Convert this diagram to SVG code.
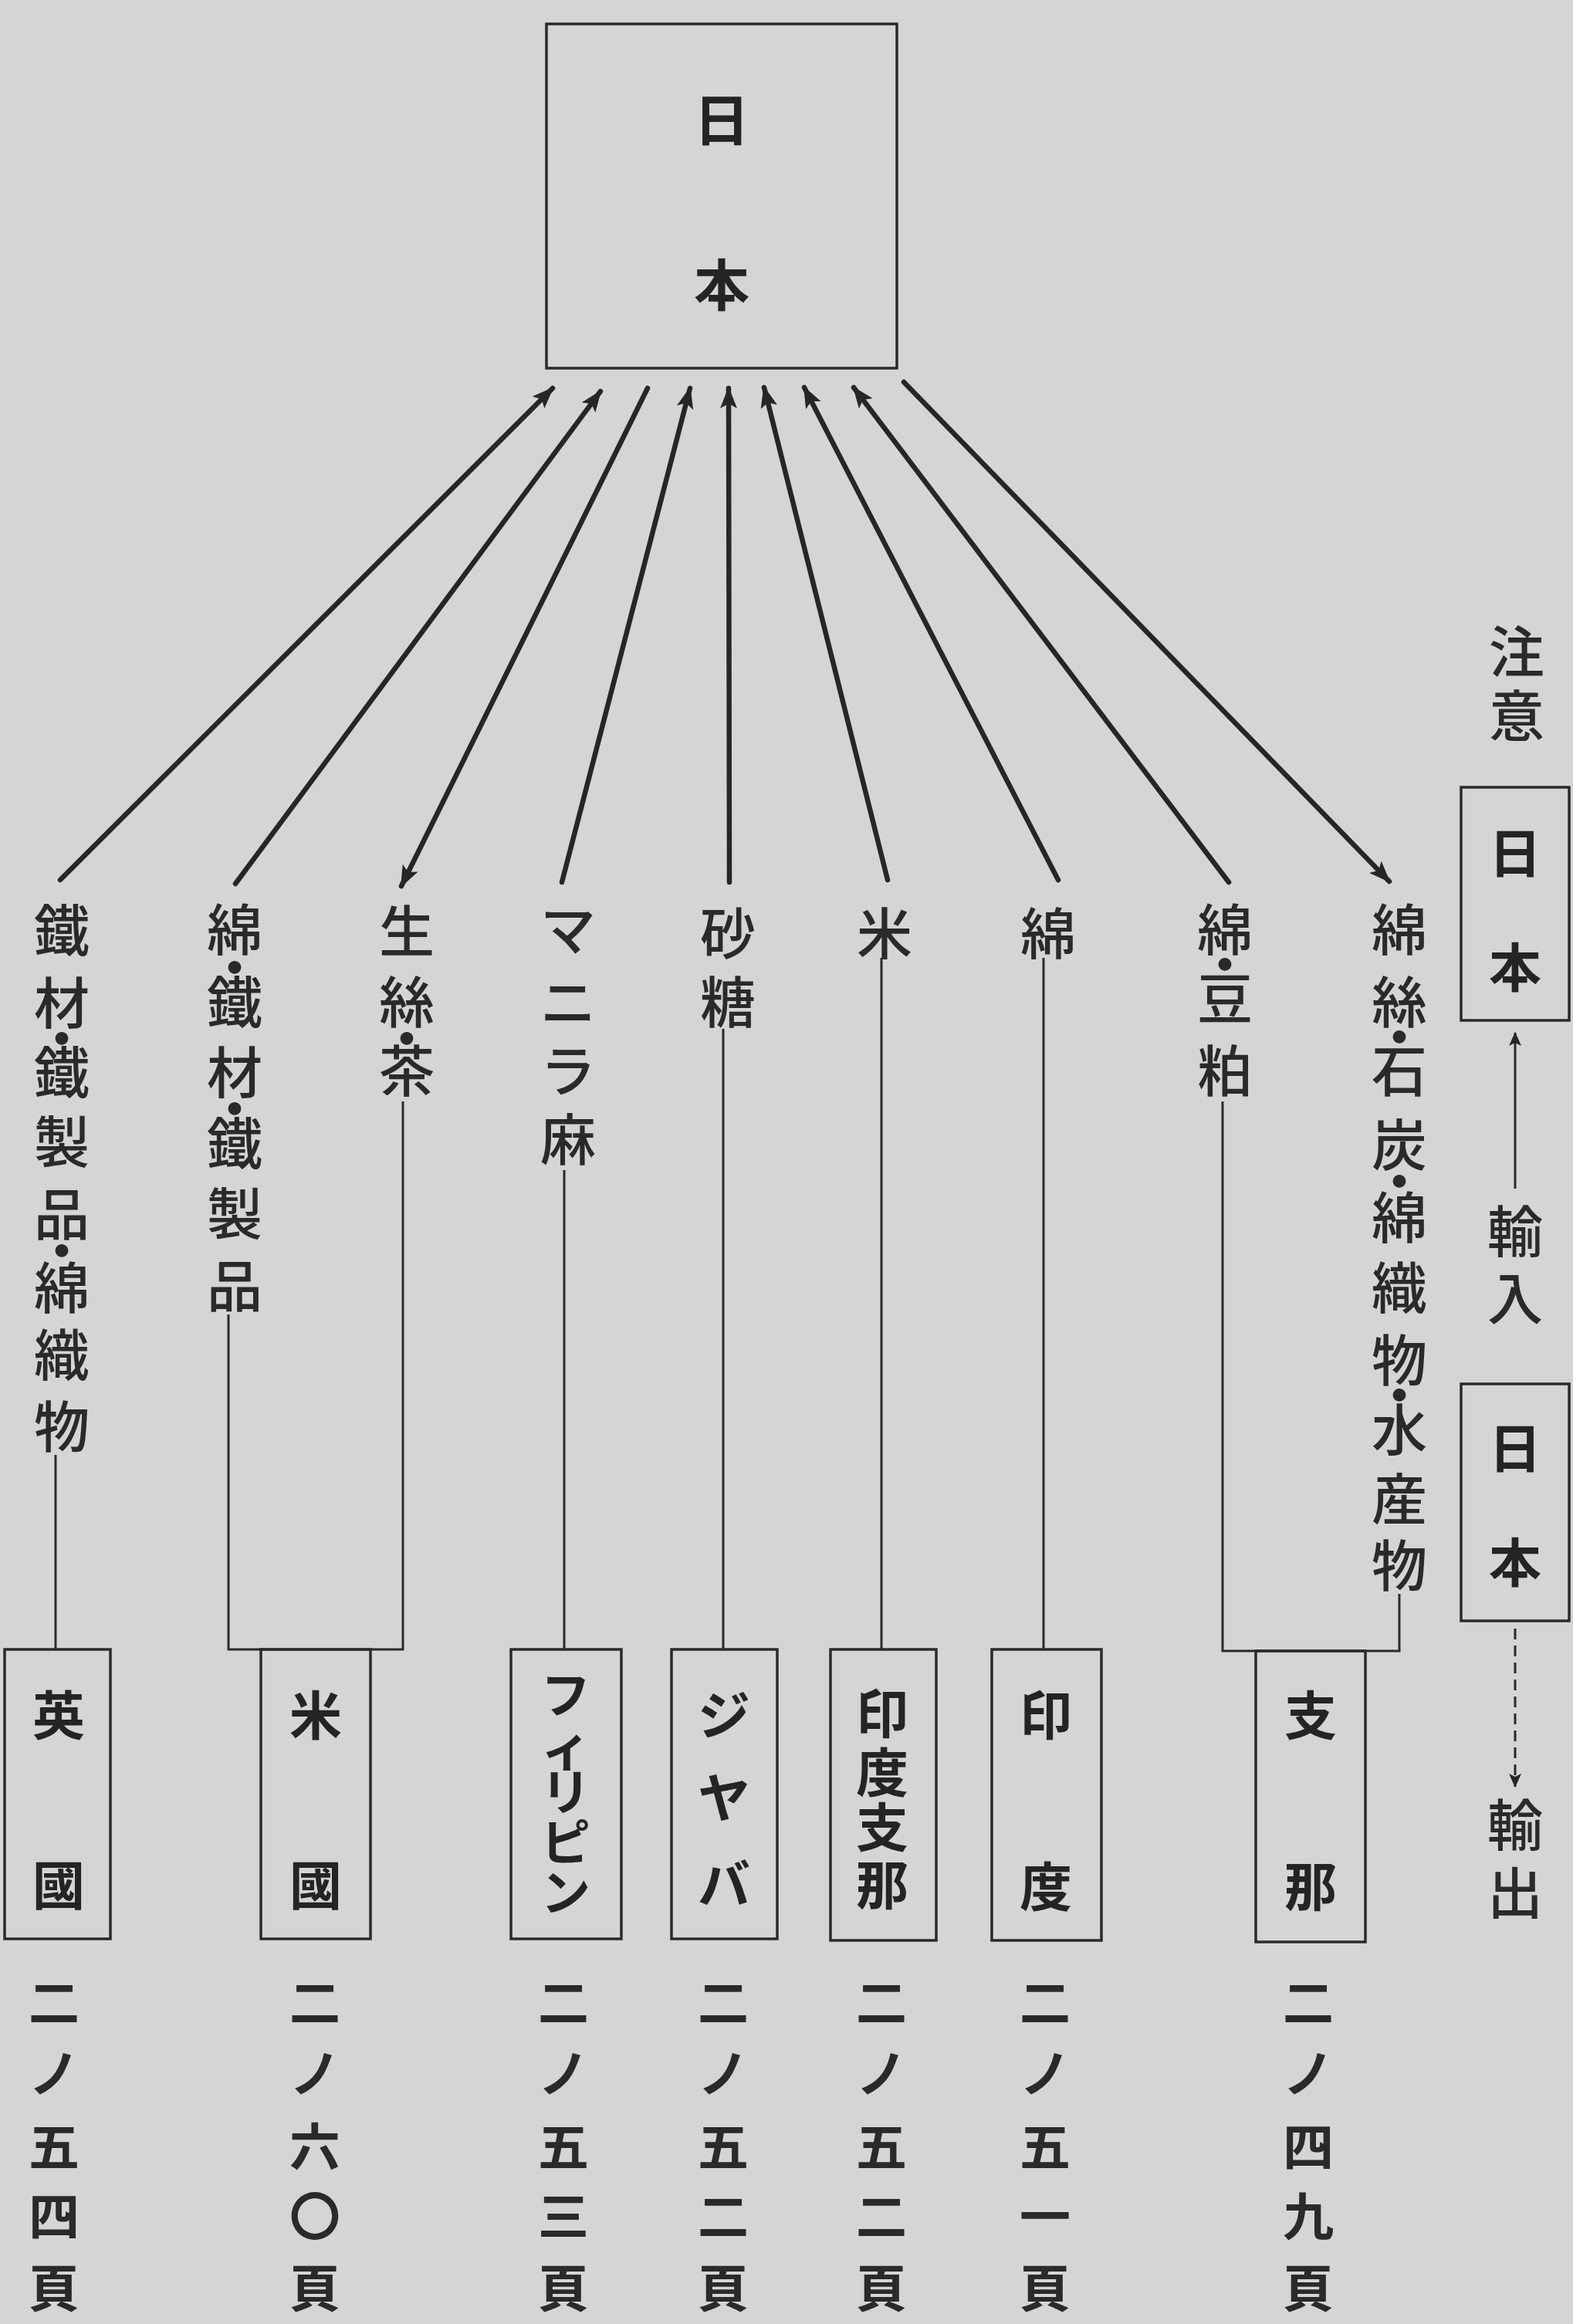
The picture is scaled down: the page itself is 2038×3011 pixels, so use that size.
<svg xmlns="http://www.w3.org/2000/svg" width="2038" height="3011" viewBox="0 0 2038 3011">
<defs>
<style>
.bg{fill:#d5d5d3}
.box{fill:none;stroke:#2a2a2a;stroke-width:3.5}
.arr{fill:none;stroke:#262626;stroke-width:6.5;stroke-linecap:round}
.vl{fill:none;stroke:#2a2a2a;stroke-width:3}
.lab{font-family:"Noto Sans CJK JP","Noto Sans CJK SC",sans-serif;font-size:72px;font-weight:500;fill:#2a2a2a;text-anchor:middle;dominant-baseline:central}
.bt{font-family:"Noto Sans CJK JP","Noto Sans CJK SC",sans-serif;font-size:68px;font-weight:700;fill:#242424;text-anchor:middle;dominant-baseline:central}
.pg{font-family:"Noto Sans CJK JP","Noto Sans CJK SC",sans-serif;font-size:66px;font-weight:700;fill:#2a2a2a;text-anchor:middle;dominant-baseline:central}
.kt{font-size:64px}
</style>
<marker id="ah" markerUnits="userSpaceOnUse" markerWidth="28" markerHeight="22" refX="26" refY="11" orient="auto">
<path d="M0,0 L28,11 L0,22 L6,11 z" fill="#262626"/>
</marker>
<marker id="ahs" markerUnits="userSpaceOnUse" markerWidth="18" markerHeight="16" refX="17" refY="8" orient="auto">
<path d="M0,0 L18,8 L0,16 L4,8 z" fill="#262626"/>
</marker>
</defs>
<rect class="bg" x="0" y="0" width="2038" height="3011"/>

<g id="japan">
<rect class="box" x="708" y="31" width="454" height="446"/>
<text class="bt" x="935 935" y="150 364" style="font-size:72px">日本</text>
</g>

<g id="connectors">
<line class="arr" x1="78" y1="1140" x2="716" y2="503" marker-end="url(#ah)"/>
<line class="arr" x1="305" y1="1145" x2="778" y2="507" marker-end="url(#ah)"/>
<line class="arr" x1="839" y1="503" x2="520" y2="1148" marker-end="url(#ah)"/>
<line class="arr" x1="728" y1="1143" x2="894" y2="503" marker-end="url(#ah)"/>
<line class="arr" x1="945" y1="1143" x2="944" y2="503" marker-end="url(#ah)"/>
<line class="arr" x1="1150" y1="1140" x2="990" y2="502" marker-end="url(#ah)"/>
<line class="arr" x1="1371" y1="1140" x2="1042" y2="502" marker-end="url(#ah)"/>
<line class="arr" x1="1592" y1="1143" x2="1106" y2="502" marker-end="url(#ah)"/>
<line class="arr" x1="1171" y1="495" x2="1800" y2="1142" marker-end="url(#ah)"/>

<line class="vl" x1="72" y1="1885" x2="72" y2="2137"/>
<polyline class="vl" points="296,1703 296,2137 522,2137 522,1427"/>
<line class="vl" x1="731" y1="1516" x2="731" y2="2137"/>
<line class="vl" x1="937" y1="1333" x2="937" y2="2137"/>
<line class="vl" x1="1142" y1="1241" x2="1142" y2="2137"/>
<line class="vl" x1="1352" y1="1241" x2="1352" y2="2137"/>
<polyline class="vl" points="1584,1427 1584,2139 1813,2139 1813,2065"/>
</g>

<g id="label-uk-goods"><text class="lab" x="80 80 80 80 80 80 80 80 80 80" y="1200 1294 1340 1384 1474 1568 1615 1663 1750 1843">鐵材・鐵製品・綿織物</text></g>
<g id="label-us-import"><text class="lab" x="304 304 304 304 304 304 304 304" y="1199 1248 1293 1384 1431 1476 1567 1661">綿・鐵材・鐵製品</text></g>
<g id="label-us-export"><text class="lab" x="527 527 527 527" y="1201 1293 1340 1382">生絲・茶</text></g>
<g id="label-philippines"><text class="lab" x="736 736 736 736" y="1199 1293 1382 1471">マニラ麻</text></g>
<g id="label-java"><text class="lab" x="943 943" y="1204 1293">砂糖</text></g>
<g id="label-indochina"><text class="lab" x="1146" y="1204">米</text></g>
<g id="label-india"><text class="lab" x="1358" y="1204">綿</text></g>
<g id="label-china-import"><text class="lab" x="1587 1587 1587 1587" y="1199 1244 1288 1382">綿・豆粕</text></g>
<g id="label-china-export"><text class="lab" x="1813 1813 1813 1813 1813 1813 1813 1813 1813 1813 1813 1813 1813" y="1199 1293 1338 1382 1478 1525 1572 1663 1757 1802 1847 1937 2023">綿絲・石炭・綿織物・水産物</text></g>

<g id="uk">
<rect class="box" x="6" y="2137" width="137" height="375"/>
<text class="bt" x="76 76" y="2218 2438">英國</text>
<text class="pg" x="70 70 70 70 70" y="2590 2682 2777 2867 2960">二ノ五四頁</text>
</g>
<g id="usa">
<rect class="box" x="338" y="2137" width="142" height="375"/>
<text class="bt" x="409 409" y="2218 2438">米國</text>
<text class="pg" x="408 408 408 408 408" y="2590 2682 2777 2867 2960">二ノ六〇頁</text>
</g>
<g id="philippines">
<rect class="box" x="662" y="2137" width="143" height="375"/>
<text class="bt kt" x="733 733 733 733 733" y="2191 2260 2317 2382 2447">フィリピン</text>
<text class="pg" x="730 730 730 730 730" y="2590 2682 2777 2867 2960">二ノ五三頁</text>
</g>
<g id="java">
<rect class="box" x="870" y="2137" width="137" height="375"/>
<text class="bt" x="938 938 938" y="2218 2325 2436">ジヤバ</text>
<text class="pg" x="937 937 937 937 937" y="2590 2682 2777 2867 2960">二ノ五二頁</text>
</g>
<g id="indochina">
<rect class="box" x="1076" y="2137" width="137" height="377"/>
<text class="bt" x="1143 1143 1143 1143" y="2216 2292 2363 2438">印度支那</text>
<text class="pg" x="1142 1142 1142 1142 1142" y="2590 2682 2777 2867 2960">二ノ五二頁</text>
</g>
<g id="india">
<rect class="box" x="1285" y="2137" width="142" height="377"/>
<text class="bt" x="1355 1355" y="2218 2440">印度</text>
<text class="pg" x="1354 1354 1354 1354 1354" y="2590 2682 2777 2867 2960">二ノ五一頁</text>
</g>
<g id="china">
<rect class="box" x="1627" y="2139" width="142" height="377"/>
<text class="bt" x="1698 1698" y="2218 2440">支那</text>
<text class="pg" x="1695 1695 1695 1695 1695" y="2590 2682 2777 2867 2960">二ノ四九頁</text>
</g>

<g id="legend">
<text class="lab" x="1965 1965" y="839 922">注意</text>
<rect class="box" x="1893" y="1020" width="140" height="302"/>
<text class="bt" x="1963 1963" y="1101 1249">日本</text>
<line class="vl" x1="1963" y1="1540" x2="1963" y2="1338" marker-end="url(#ahs)"/>
<text class="lab" x="1963 1963" y="1590 1677">輸入</text>
<rect class="box" x="1893" y="1793" width="140" height="307"/>
<text class="bt" x="1963 1963" y="1872 2020">日本</text>
<line class="vl" x1="1963" y1="2110" x2="1963" y2="2315" stroke-dasharray="14 8" marker-end="url(#ahs)"/>
<text class="lab" x="1963 1963" y="2359 2447">輸出</text>
</g>
</svg>
